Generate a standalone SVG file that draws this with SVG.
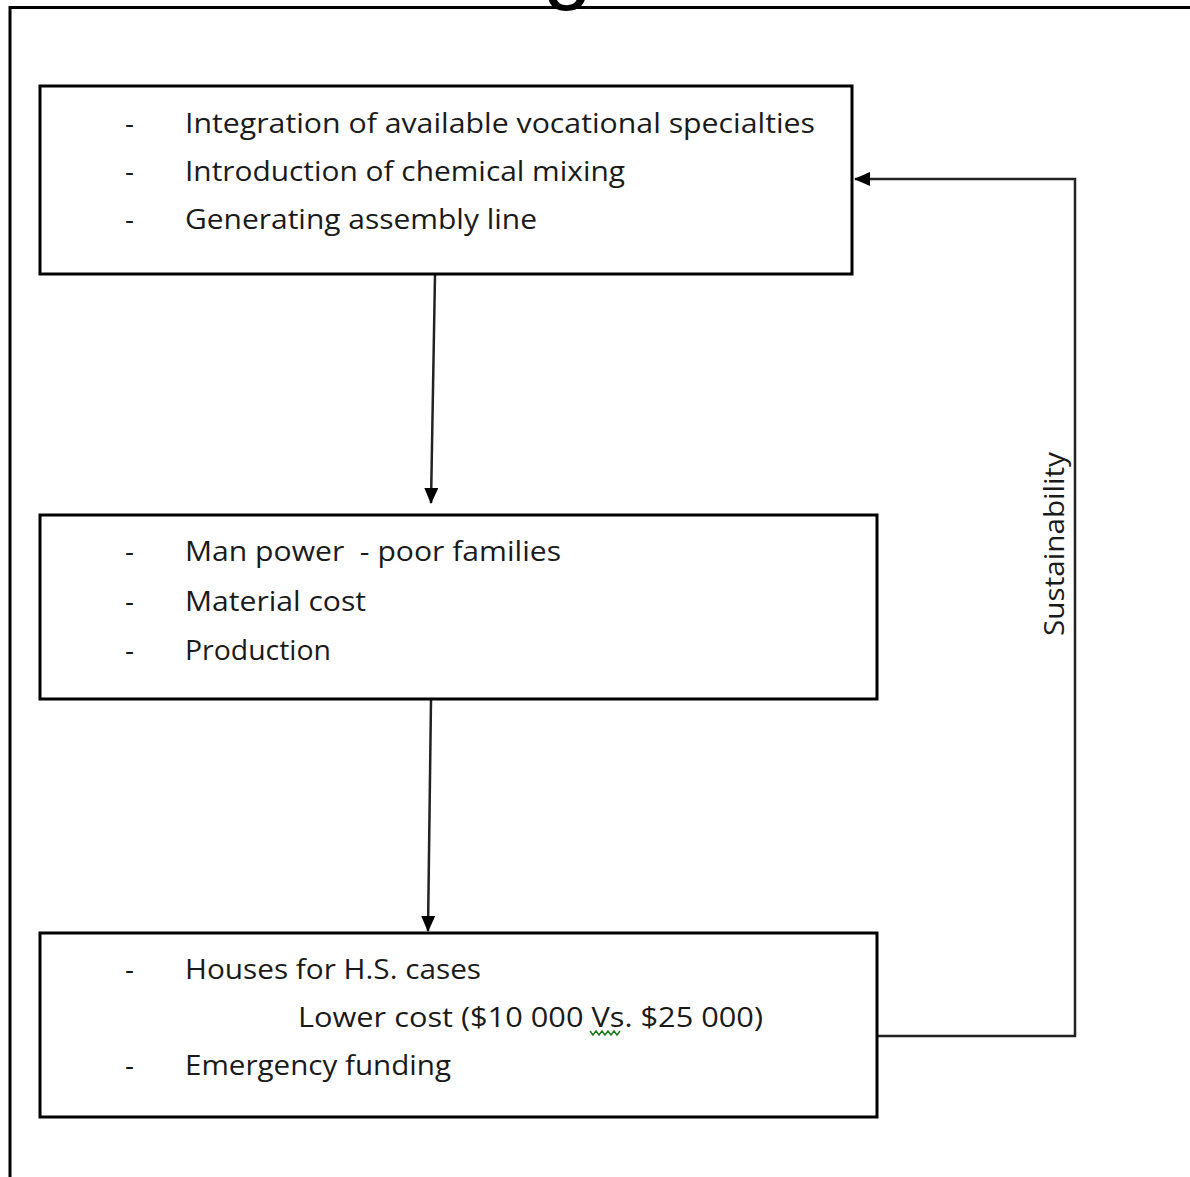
<svg xmlns="http://www.w3.org/2000/svg" width="1190" height="1177" viewBox="0 0 1190 1177">
<style>
.box{fill:#fff;stroke:#000;stroke-width:3}
.t{font-family:"Open Sans","Liberation Sans",sans-serif;font-size:28px;fill:#1a1a1a;white-space:pre}
.frame{fill:none;stroke:#000;stroke-width:3}
.con{fill:none;stroke:#222;stroke-width:2.5}
</style>
<defs>
<marker id="ahb" markerWidth="16" markerHeight="14" refX="15" refY="7" orient="auto" markerUnits="userSpaceOnUse" viewBox="0 0 16 14">
<path d="M0,0 L16,7 L0,14 z" fill="#000"/>
</marker>
</defs>
<rect width="1190" height="1177" fill="#fff"/>
<g id="frame">
<path class="frame" d="M10,1177 V7.5 H1190"/>
<text x="543" y="-7" font-family="Liberation Sans, sans-serif" font-size="88" fill="#000">g</text>
</g>
<g id="connectors">
<line class="con" x1="435" y1="275" x2="431" y2="503" marker-end="url(#ahb)"/>
<line class="con" x1="431" y1="700" x2="428" y2="931" marker-end="url(#ahb)"/>
<path class="con" d="M877,1036 H1075 V179 H855" marker-end="url(#ahb)" stroke="#111"/>
<text class="t" transform="translate(1064,636) rotate(-90)" textLength="184" lengthAdjust="spacingAndGlyphs">Sustainability</text>
</g>
<g id="node1">
<rect class="box" x="40" y="86" width="812" height="188"/>
<text class="t" x="125" y="133">-</text>
<text class="t" x="125" y="181">-</text>
<text class="t" x="125" y="229">-</text>
<text class="t" x="185" y="133" textLength="630" lengthAdjust="spacingAndGlyphs">Integration of available vocational specialties</text>
<text class="t" x="185" y="181" textLength="440" lengthAdjust="spacingAndGlyphs">Introduction of chemical mixing</text>
<text class="t" x="185" y="229" textLength="352" lengthAdjust="spacingAndGlyphs">Generating assembly line</text>
</g>
<g id="node2">
<rect class="box" x="40" y="515" width="837" height="184"/>
<text class="t" x="125" y="561">-</text>
<text class="t" x="125" y="611">-</text>
<text class="t" x="125" y="660">-</text>
<text class="t" x="185" y="561" textLength="376" lengthAdjust="spacingAndGlyphs" xml:space="preserve">Man power  - poor families</text>
<text class="t" x="185" y="611" textLength="181" lengthAdjust="spacingAndGlyphs">Material cost</text>
<text class="t" x="185" y="660" textLength="146" lengthAdjust="spacingAndGlyphs">Production</text>
</g>
<g id="node3">
<rect class="box" x="40" y="933" width="837" height="184"/>
<text class="t" x="125" y="979">-</text>
<text class="t" x="125" y="1075">-</text>
<text class="t" x="185" y="979" textLength="296" lengthAdjust="spacingAndGlyphs">Houses for H.S. cases</text>
<text class="t" x="298" y="1027" textLength="465" lengthAdjust="spacingAndGlyphs">Lower cost ($10 000 Vs. $25 000)</text>
<text class="t" x="185" y="1075" textLength="266" lengthAdjust="spacingAndGlyphs">Emergency funding</text>
<polyline points="590,1031 593,1035 596,1031 599,1035 602,1031 605,1035 608,1031 611,1035 614,1031 617,1035 620,1031" fill="none" stroke="#1a7a1a" stroke-width="1.5"/>
</g>
</svg>
